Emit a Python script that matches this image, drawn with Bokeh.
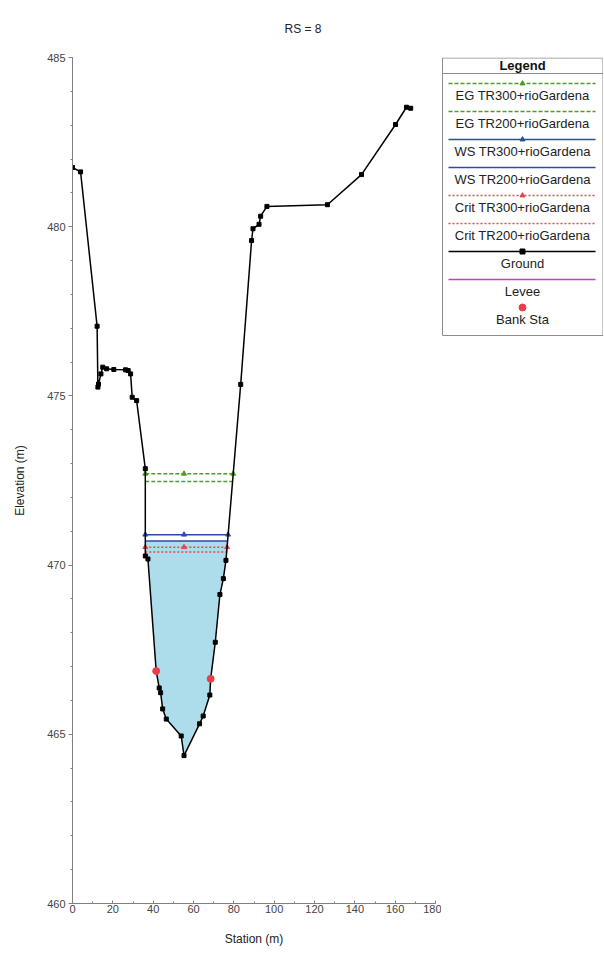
import numpy as np
from bokeh.plotting import figure
from bokeh.layouts import row
from bokeh.models import Range1d, SingleIntervalTicker
from bokeh.core.properties import value
from bokeh.embed import file_html
from bokeh.resources import INLINE

# ---------------- data ----------------
title_text = "RS = 8"
ground_station = [0.0, 4.0, 12.2, 12.6, 12.9, 14.1, 15.0, 16.9, 20.5, 26.3, 27.6, 28.8,
                  29.6, 31.8, 36.1, 36.1, 37.4, 41.5, 43.0, 43.7, 44.7, 46.5, 53.9, 55.3,
                  63.0, 64.8, 68.1, 68.5, 70.8, 73.1, 74.8, 76.1, 83.4, 88.8, 89.5, 92.5,
                  93.3, 96.4, 126.4, 143.3, 160.2, 165.6, 167.7]
ground_elev = [481.75, 481.62, 477.06, 475.26, 475.35, 475.65, 475.85, 475.80, 475.78,
               475.77, 475.75, 475.65, 474.96, 474.86, 472.85, 470.27, 470.18, 466.87,
               466.37, 466.23, 465.75, 465.45, 464.95, 464.37, 465.31, 465.54, 466.16,
               466.64, 467.72, 469.13, 469.60, 470.14, 475.34, 479.59, 479.94, 480.07,
               480.31, 480.60, 480.65, 481.54, 483.02, 483.53, 483.50]
bank_station = [41.5, 68.5]
bank_elev = [466.87, 466.64]

profile_names = ["EG TR300+rioGardena", "EG TR200+rioGardena",
                 "WS TR300+rioGardena", "WS TR200+rioGardena",
                 "Crit TR300+rioGardena", "Crit TR200+rioGardena"]
profile_elev = [472.70, 472.47, 470.90, 470.71, 470.53, 470.39]
fill_profile = "WS TR200+rioGardena"

x_ticks_interval = 20
y_ticks_interval = 5

# ---------------- styles ----------------
FONT = "Liberation Sans"
prof_style = {
    "EG TR300+rioGardena": dict(color="#4f9a2a", dash="4 2", marker=True),
    "EG TR200+rioGardena": dict(color="#4f9a2a", dash="4 2", marker=False),
    "WS TR300+rioGardena": dict(color="#2a4ca8", dash="solid", marker=True),
    "WS TR200+rioGardena": dict(color="#2a4ca8", dash="solid", marker=False),
    "Crit TR300+rioGardena": dict(color="#e0484f", dash="2 2", marker=True),
    "Crit TR200+rioGardena": dict(color="#e0484f", dash="2 2", marker=False),
}

gx = np.array(ground_station)
gy = np.array(ground_elev)
imin = int(np.argmin(gy))


def crossings(e):
    i = imin
    while i > 0 and gy[i - 1] < e:
        i -= 1
    j = i - 1
    t = (e - gy[i]) / (gy[j] - gy[i])
    xl = gx[i] + t * (gx[j] - gx[i])
    k = imin
    while k < len(gy) - 1 and gy[k + 1] < e:
        k += 1
    m = k + 1
    t = (e - gy[k]) / (gy[m] - gy[k])
    xr = gx[k] + t * (gx[m] - gx[k])
    return xl, xr, i, k


H = 950
TOP, BOTTOM = 57, 47
p = figure(width=441, height=H, x_range=Range1d(0, 180), y_range=Range1d(460, 485),
           output_backend="svg", toolbar_location=None,
           min_border_left=72, min_border_right=6, min_border_top=TOP,
           min_border_bottom=BOTTOM, title=title_text)
p.outline_line_color = None
p.grid.visible = False
p.background_fill_color = "white"
p.border_fill_color = "white"

p.title.text_font = FONT
p.title.text_font_size = "12px"
p.title.text_font_style = "normal"
p.title.text_color = "#222222"
p.title.align = "left"
p.title.vertical_align = "top"
p.title.offset = 212
p.title.standoff = 39

# water fill
fe = profile_elev[profile_names.index(fill_profile)]
xl, xr, i0, k0 = crossings(fe)
fill_x = [xl] + list(gx[i0:k0 + 1]) + [xr]
fill_y = [fe] + list(gy[i0:k0 + 1]) + [fe]
p.patch(fill_x, fill_y, fill_color="#addcea", line_color=None)

# profiles
for name, e in zip(profile_names, profile_elev):
    st = prof_style[name]
    a, b, _, _ = crossings(e)
    p.line([a, b], [e, e], line_color=st["color"], line_width=1.5, line_dash=st["dash"])
    if st["marker"]:
        p.scatter([a, gx[imin], b], [e, e, e], marker="triangle", size=5,
                  fill_color=st["color"], line_color=st["color"])

# ground
p.line(ground_station, ground_elev, line_color="black", line_width=1.5)
p.scatter(ground_station, ground_elev, marker="square", size=4, fill_color="black",
          line_color="black")
p.scatter(bank_station, bank_elev, marker="circle", size=7, fill_color="#e8404a",
          line_color="#e8404a")

# axes
xax = p.below[0]
yax = p.left[0]
xax.ticker = SingleIntervalTicker(interval=x_ticks_interval, num_minor_ticks=2)
yax.ticker = SingleIntervalTicker(interval=y_ticks_interval, num_minor_ticks=5)
xax.axis_label = "Station (m)"
yax.axis_label = "Elevation (m)"
for ax in (xax, yax):
    ax.axis_line_color = "#808080"
    ax.major_tick_line_color = "#808080"
    ax.minor_tick_line_color = "#808080"
    ax.major_label_text_font = FONT
    ax.major_label_text_font_size = "11px"
    ax.major_label_text_color = "#444444"
    ax.axis_label_text_font = FONT
    ax.axis_label_text_font_size = "12px"
    ax.axis_label_text_font_style = "normal"
    ax.axis_label_text_color = "#222222"
xax.major_tick_in = 3
xax.major_tick_out = 0
xax.minor_tick_in = 2
xax.minor_tick_out = 0
xax.major_label_standoff = 1
xax.axis_label_standoff = 16
yax.major_tick_in = 0
yax.major_tick_out = 4
yax.minor_tick_in = 0
yax.minor_tick_out = 2
yax.major_label_standoff = 3
yax.axis_label_standoff = 17

# ---------------- legend panel ----------------
legend_items = []
for name in profile_names:
    st = prof_style[name]
    legend_items.append(dict(label=name, color=st["color"], dash=st["dash"],
                             marker="triangle" if st["marker"] else None, line=True))
legend_items.append(dict(label="Ground", color="black", dash="solid", marker="square", line=True))
legend_items.append(dict(label="Levee", color="#c040c0", dash="solid", marker=None, line=True))
legend_items.append(dict(label="Bank Sta", color="#e8404a", dash="solid", marker="circle", line=False))

# legend panel uses page-pixel coordinates; same height/borders as main plot so
# the row's frame alignment keeps it in place
LW = 162
lg = figure(width=LW, height=H, x_range=Range1d(441, 441 + LW),
            y_range=Range1d(H - BOTTOM, TOP),
            output_backend="svg", toolbar_location=None,
            min_border_left=0, min_border_right=0, min_border_top=TOP,
            min_border_bottom=BOTTOM, x_axis_type=None, y_axis_type=None)
lg.outline_line_color = None
lg.grid.visible = False

box_l, box_r, box_t, box_b = 442, 602.5, 57.5, 335
lg.quad(left=[box_l], right=[box_r], top=[box_t], bottom=[box_b],
        fill_color="white", line_color="#8c8c8c", line_width=1)
xc = 522
lg.text([xc], [65], text=["Legend"], text_align="center", text_baseline="middle",
        text_font=value(FONT), text_font_size="13px", text_font_style="bold",
        text_color="#111111")
lg.line([box_l, box_r], [73, 73], line_color="#8c8c8c", line_width=1)

x0, x1 = 448, 595
for idx, it in enumerate(legend_items):
    ly = 83 + 28 * idx
    if it["line"]:
        lg.line([x0, x1], [ly, ly], line_color=it["color"], line_width=1.5,
                line_dash=it["dash"])
    if it["marker"] is not None:
        sz = 7 if it["marker"] == "circle" else 5
        lg.scatter([xc], [ly], marker=it["marker"], size=sz, fill_color=it["color"],
                   line_color=it["color"])
    lg.text([xc], [ly + 12], text=[it["label"]], text_align="center",
            text_baseline="middle", text_font=value(FONT), text_font_size="13px",
            text_color="#222222")

layout = row(p, lg)
open("out.html", "w").write(file_html(layout, INLINE))
